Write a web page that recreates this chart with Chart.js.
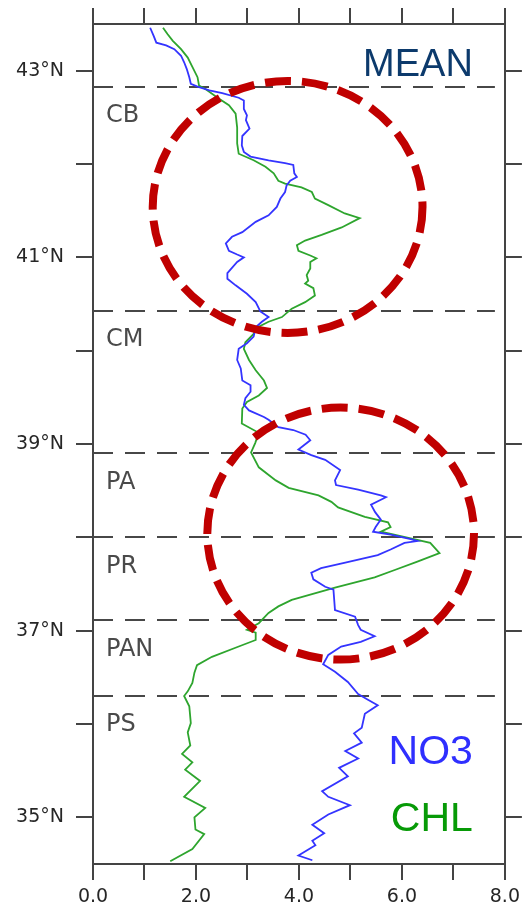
<!DOCTYPE html>
<html>
<head>
<meta charset="utf-8">
<script src="https://cdn.jsdelivr.net/npm/chart.js@4.4.1/dist/chart.umd.min.js"></script>
<style>
  html, body { margin: 0; padding: 0; background: #fff; }
  #wrap { width: 526px; height: 909px; }
</style>
</head>
<body>
<div id="wrap"><canvas id="c" width="526" height="909"></canvas></div>
<script>
// Mean nitrate profile along the coast (latitude, value)
const NO3_LAT = [43.46,43.37,43.30,43.27,43.23,43.16,43.09,43.02,42.93,42.86,
  42.83,42.79,42.76,42.71,42.68,42.59,42.52,42.47,42.38,42.30,
  42.20,42.13,42.08,42.04,42.01,41.99,41.90,41.86,41.82,41.77,
  41.70,41.63,41.54,41.45,41.38,41.27,41.22,41.15,41.07,41.03,
  41.00,40.95,40.83,40.77,40.70,40.61,40.52,40.42,40.36,40.31,
  40.25,40.15,40.08,40.02,39.90,39.81,39.68,39.63,39.56,39.49,
  39.42,39.36,39.29,39.26,39.18,39.15,39.10,39.04,38.94,38.88,
  38.83,38.72,38.61,38.56,38.51,38.45,38.43,38.35,38.27,38.19,
  38.11,38.06,38.03,37.98,37.96,37.94,37.87,37.81,37.73,37.67,
  37.62,37.55,37.47,37.44,37.22,37.15,37.06,37.01,36.94,36.88,
  36.83,36.74,36.64,36.56,36.45,36.32,36.26,36.20,36.11,35.96,
  35.90,35.80,35.71,35.63,35.53,35.44,35.28,35.22,35.13,35.03,
  34.92,34.83,34.75,34.70,34.59,34.54];
const NO3_VAL = [1.11,1.18,1.23,1.42,1.58,1.71,1.77,1.82,1.87,1.90,
  2.03,2.26,2.51,2.83,2.93,2.93,2.99,2.97,3.04,2.90,
  2.89,2.93,3.06,3.41,3.73,3.89,3.91,3.96,3.83,3.76,
  3.73,3.64,3.57,3.41,3.16,2.90,2.70,2.58,2.64,2.80,
  2.93,2.80,2.61,2.61,2.77,2.99,3.16,3.25,3.41,3.28,
  3.16,3.12,2.99,2.83,2.80,2.87,2.90,3.06,3.06,2.96,
  2.93,3.03,3.32,3.41,3.60,3.89,4.13,4.22,3.99,4.24,
  4.51,4.80,4.70,4.72,5.15,5.59,5.69,5.40,5.48,5.59,
  5.49,5.44,5.78,6.17,6.30,6.05,5.78,5.53,4.90,4.43,
  4.24,4.28,4.51,4.67,4.70,5.09,5.15,5.20,5.47,5.20,
  4.82,4.57,4.47,4.70,4.95,5.15,5.34,5.53,5.28,5.22,
  5.07,5.22,4.90,5.15,4.78,4.95,4.45,4.57,4.99,4.57,
  4.26,4.49,4.26,4.32,3.99,4.26];

// Mean chlorophyll profile (latitude, value)
const CHL_LAT = [43.46,43.39,43.32,43.23,43.14,43.04,42.93,42.84,42.80,42.71,
  42.63,42.54,42.39,42.22,42.11,42.04,41.97,41.90,41.82,41.79,
  41.75,41.70,41.63,41.56,41.47,41.42,41.32,41.24,41.18,41.13,
  41.07,41.02,40.99,40.95,40.88,40.81,40.75,40.72,40.67,40.59,
  40.52,40.45,40.36,40.31,40.25,40.18,40.09,40.02,39.90,39.79,
  39.68,39.60,39.52,39.45,39.38,39.22,39.12,39.01,38.91,38.75,
  38.61,38.53,38.45,38.38,38.32,38.22,38.16,38.11,38.06,37.99,
  37.94,37.83,37.74,37.65,37.57,37.46,37.33,37.26,37.19,37.08,
  37.01,36.98,36.90,36.82,36.72,36.63,36.55,36.44,36.35,36.30,
  36.19,36.01,35.91,35.77,35.68,35.59,35.51,35.39,35.22,35.10,
  35.00,34.87,34.82,34.66,34.53];
const CHL_VAL = [1.36,1.45,1.55,1.71,1.84,1.93,2.03,2.06,2.19,2.42,
  2.64,2.77,2.80,2.80,2.83,3.12,3.35,3.51,3.60,3.73,
  4.05,4.25,4.31,4.57,4.89,5.18,4.83,4.44,4.12,3.96,
  3.99,4.22,4.34,4.22,4.22,4.15,4.18,4.12,4.28,4.31,
  4.12,3.86,3.67,3.41,3.19,3.12,2.96,2.93,3.03,3.16,
  3.32,3.38,3.22,2.99,2.90,2.89,3.22,3.15,3.07,3.22,
  3.55,3.80,4.38,4.63,4.76,5.28,5.73,5.78,5.59,6.17,
  6.55,6.73,6.30,5.86,5.47,4.70,3.86,3.60,3.41,3.22,
  2.99,3.16,3.16,2.78,2.31,2.02,1.97,1.93,1.84,1.77,
  1.87,1.90,1.84,1.89,1.73,1.93,1.79,2.08,1.77,2.18,
  1.97,1.99,2.16,1.93,1.50];

// Axis ticks
const X_TICKS = [0, 1, 2, 3, 4, 5, 6, 7, 8];
const LAT_TICKS = [35, 36, 37, 38, 39, 40, 41, 42, 43];

// Coastal regions: name and northern boundary latitude
const REGION_NAMES = ['CB', 'CM', 'PA', 'PR', 'PAN', 'PS'];
const REGION_TOPS = [42.83, 40.43, 38.90, 38.00, 37.11, 36.30];

// Highlighted zones (centre value, centre latitude, half-widths)
const ZONE_X = [3.78, 4.81];
const ZONE_LAT = [41.54, 38.04];
const ZONE_RX = [2.62, 2.59];
const ZONE_RY = [1.35, 1.35];

const toPoints = (lat, val) => lat.map((y, i) => ({ x: val[i], y: y }));

const decor = {
  id: 'decor',
  beforeDatasetsDraw(chart) {
    const { ctx, chartArea: a, scales } = chart;
    const y = scales.y;
    ctx.save();
    ctx.strokeStyle = '#474747';
    ctx.lineWidth = 2;
    ctx.setLineDash([20, 12]);
    REGION_TOPS.forEach(lat => {
      const py = Math.round(y.getPixelForValue(lat));
      ctx.beginPath();
      ctx.moveTo(a.left, py);
      ctx.lineTo(a.right - 10, py);
      ctx.stroke();
    });
    ctx.setLineDash([]);
    ctx.fillStyle = '#4a4a4a';
    ctx.font = '24px "DejaVu Sans"';
    ctx.textAlign = 'left';
    ctx.textBaseline = 'middle';
    REGION_NAMES.forEach((name, i) => {
      ctx.fillText(name, a.left + 13, y.getPixelForValue(REGION_TOPS[i]) + 29);
    });
    ctx.restore();
  },
  afterDatasetsDraw(chart) {
    const { ctx, chartArea: a, scales } = chart;
    const x = scales.x, y = scales.y;
    ctx.save();
    ctx.strokeStyle = '#c00000';
    ctx.lineWidth = 8;
    ctx.setLineDash([26, 11]);
    ZONE_X.forEach((cx, i) => {
      const px = x.getPixelForValue(cx);
      const py = y.getPixelForValue(ZONE_LAT[i]);
      const rx = x.getPixelForValue(cx + ZONE_RX[i]) - px;
      const ry = py - y.getPixelForValue(ZONE_LAT[i] + ZONE_RY[i]);
      ctx.beginPath();
      ctx.ellipse(px, py, rx, ry, 0, 0, Math.PI * 2);
      ctx.stroke();
    });
    ctx.setLineDash([]);
    ctx.textAlign = 'right';
    ctx.textBaseline = 'alphabetic';
    ctx.font = '38px "Liberation Sans", Arial, sans-serif';
    ctx.fillStyle = '#0c3a6c';
    ctx.fillText('MEAN', a.right - 32, a.top + 52);
    ctx.font = '41px "Liberation Sans", Arial, sans-serif';
    ctx.fillStyle = '#2f2fff';
    ctx.fillText('NO3', a.right - 32, a.bottom - 100);
    ctx.fillStyle = '#079a07';
    ctx.fillText('CHL', a.right - 32, a.bottom - 33);
    ctx.restore();
  }
};

const AXIS_COLOR = '#444';
const tickFont = { family: 'DejaVu Sans', size: 19 };

function frameAxis(position, opts) {
  return Object.assign({
    type: 'linear',
    position: position,
    border: { display: true, color: AXIS_COLOR, width: 2 },
    grid: { drawOnChartArea: false, drawTicks: true, color: AXIS_COLOR, lineWidth: 2 }
  }, opts);
}

new Chart(document.getElementById('c'), {
  type: 'scatter',
  data: {
    datasets: [
      { label: 'NO3', data: toPoints(NO3_LAT, NO3_VAL), showLine: true, xAxisID: 'x', yAxisID: 'y',
        borderColor: '#3434ff', borderWidth: 1.8, pointRadius: 0, tension: 0, fill: false },
      { label: 'CHL', data: toPoints(CHL_LAT, CHL_VAL), showLine: true, xAxisID: 'x', yAxisID: 'y',
        borderColor: '#2ea52e', borderWidth: 1.8, pointRadius: 0, tension: 0, fill: false }
    ]
  },
  options: {
    responsive: false,
    animation: false,
    devicePixelRatio: 1,
    layout: { padding: { top: 8, left: 0, right: 0, bottom: 0 } },
    plugins: { legend: { display: false }, tooltip: { enabled: false } },
    scales: {
      x: frameAxis('bottom', {
        min: 0, max: 8,
        afterBuildTicks: s => { s.ticks = X_TICKS.map(v => ({ value: v })); },
        afterFit: s => { s.height = 45; },
        grid: { drawOnChartArea: false, drawTicks: true, tickLength: 16, color: AXIS_COLOR, lineWidth: 2 },
        ticks: { font: tickFont, color: '#262626', padding: 6, maxRotation: 0, autoSkip: false,
          callback: v => (v % 2 === 0 ? v.toFixed(1) : '') }
      }),
      x2: frameAxis('top', {
        axis: 'x', min: 0, max: 8,
        afterBuildTicks: s => { s.ticks = X_TICKS.map(v => ({ value: v })); },
        afterFit: s => { s.height = 16; },
        grid: { drawOnChartArea: false, drawTicks: true, tickLength: 16, color: AXIS_COLOR, lineWidth: 2 },
        ticks: { display: false }
      }),
      y: frameAxis('left', {
        min: 34.5, max: 43.5,
        afterBuildTicks: s => { s.ticks = LAT_TICKS.map(v => ({ value: v })); },
        afterFit: s => { s.width = 93; },
        grid: { drawOnChartArea: false, drawTicks: true, tickLength: 17, color: AXIS_COLOR, lineWidth: 2 },
        ticks: { font: tickFont, color: '#262626', padding: 12, autoSkip: false,
          callback: v => (v % 2 === 1 ? v + '°N' : '') }
      }),
      y2: frameAxis('right', {
        axis: 'y', min: 34.5, max: 43.5,
        afterBuildTicks: s => { s.ticks = LAT_TICKS.map(v => ({ value: v })); },
        afterFit: s => { s.width = 18; },
        grid: { drawOnChartArea: false, drawTicks: true, tickLength: 17, color: AXIS_COLOR, lineWidth: 2 },
        ticks: { display: false }
      })
    }
  },
  plugins: [decor]
});
</script>
</body>
</html>
